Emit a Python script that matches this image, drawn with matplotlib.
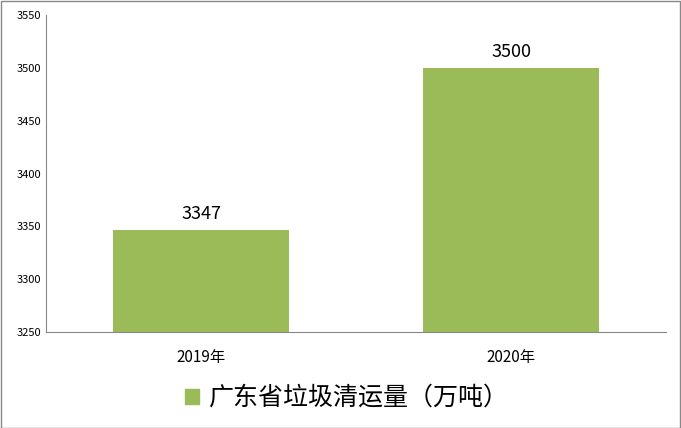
import matplotlib
matplotlib.use("Agg")
import matplotlib.pyplot as plt
from matplotlib.patches import Patch

plt.rcParams['font.family'] = ['Noto Sans CJK SC', 'DejaVu Sans']

categories = ["2019年", "2020年"]
values = [3347, 3500]
series_name = "广东省垃圾清运量（万吨）"
color = "#9bbb59"

fig = plt.figure(figsize=(6.81, 4.28), dpi=100)
fig.patches.append(plt.Rectangle((0.001, 0.001), 0.998, 0.997, transform=fig.transFigure,
                                 fill=False, edgecolor="#888888", linewidth=1))
ax = fig.add_axes([46/681, 1-332/428, 620/681, 317/428])
x = range(len(categories))
bars = ax.bar(x, values, width=0.57, color=color)
for xi, v in zip(x, values):
    ax.text(xi, v + 6, str(v), ha="center", va="bottom", fontsize=13, color="#000000")
ax.set_ylim(3250, 3550)
ax.set_yticks(range(3250, 3551, 50))
ax.set_xlim(-0.5, 1.5)
ax.set_xticks(list(x))
ax.set_xticklabels(categories, fontsize=11, family=['Noto Sans CJK SC'])
ax.tick_params(axis='y', labelsize=8, length=0)
ax.tick_params(axis='x', length=0, pad=12)
for s in ["top", "right"]:
    ax.spines[s].set_visible(False)
for s in ["left", "bottom"]:
    ax.spines[s].set_color("#888888")
fig.legend(handles=[Patch(color=color)], labels=[series_name], loc="center",
           bbox_to_anchor=(0.51, 1-398/428), frameon=False, fontsize=18,
           handlelength=0.55, handleheight=0.55, handletextpad=0.4)
fig.savefig("out.png", dpi=100)
